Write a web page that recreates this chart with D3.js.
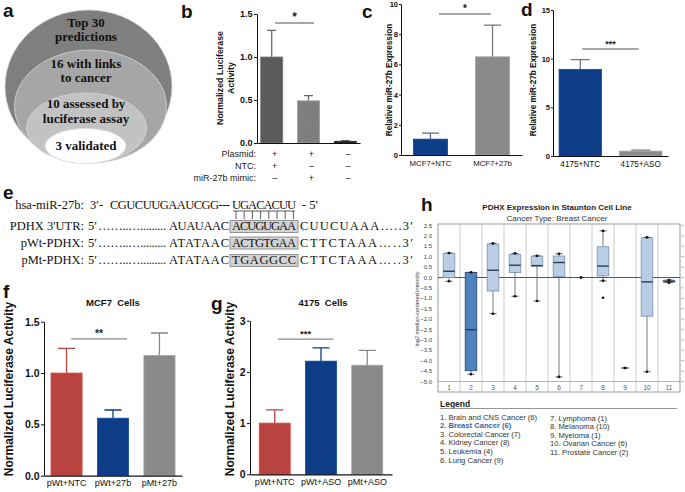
<!DOCTYPE html>
<html>
<head>
<meta charset="utf-8">
<script src="https://cdn.jsdelivr.net/npm/d3@7"></script>
<style>
  body { margin: 0; background: #fff; }
  text { font-family: Arial, "Liberation Sans", sans-serif; }
</style>
</head>
<body>
<script>
// ---- data ----
// a
const funnelLines = [["Top 30", "predictions"], ["16 with links", "to cancer"], ["10 assessed by", "luciferase assay"], ["3 validated"]];

// b
const bGroups = ["ntc", "mimic", "none"];
const bValues = [1.0, 0.49, 0.02];
const bErrors = [0.31, 0.06, 0.005];
const bTicks = [0, 0.5, 1.0, 1.5];
const bRows = ["Plasmid:", "NTC:", "miR-27b mimic:"];
const bSigns = [["+", "+", "–"], ["+", "–", "–"], ["–", "+", "–"]];

// c
const cLabels = ["MCF7+NTC", "MCF7+27b"];
const cValues = [1.05, 6.5];
const cErrors = [0.4, 2.1];
const cTicks = [0, 2, 4, 6, 8, 10];

// d
const dLabels = ["4175+NTC", "4175+ASO"];
const dValues = [8.9, 0.5];
const dErrors = [1.0, 0.1];
const dTicks = [0, 5, 10, 15];

// e
const seqNames = ["hsa-miR-27b:", "PDHX 3'UTR:", "pWt-PDHX:", "pMt-PDHX:"];
const seqLeft = ["CGUCUUGAAUCGG---", "AUAUAAC", "ATATAAC", "ATATAAC"];
const seqSite = ["UGACACUU", "ACUGUGAA", "ACTGTGAA", "TGAGGCC"];
const seqRight = ["- 5′", "CUUCUAAA…..3′", "CTTCTAAA…..3′", "CTTCTAAA…..3′"];

// f
const fLabels = ["pWt+NTC", "pWt+27b", "pMt+27b"];
const fValues = [1.0, 0.56, 1.17];
const fErrors = [0.24, 0.08, 0.22];
const fTicks = [0, 0.5, 1.0, 1.5];

// g
const gLabels = ["pWt+NTC", "pWt+ASO", "pMt+ASO"];
const gValues = [1.0, 2.21, 2.13];
const gErrors = [0.26, 0.26, 0.29];
const gTicks = [0, 1, 2, 3];

// h
const hCats = ["1", "2", "3", "4", "5", "6", "7", "8", "9", "10", "11"];
const hMin = [-0.18, -4.65, -1.74, -0.90, -1.13, -4.78, 0, -0.16, -4.35, -4.53, -0.25];
const hQ1 = [0.0, -4.48, -0.65, 0.24, 0.55, 0.05, 0, 0.08, -4.35, -1.86, -0.23];
const hMed = [0.30, -2.51, 0.35, 0.59, 0.57, 0.72, 0, 0.55, -4.35, -0.21, -0.18];
const hQ3 = [1.16, 0.24, 1.61, 1.11, 1.03, 1.03, 0, 1.48, -4.35, 1.91, -0.13];
const hMax = [1.18, 0.25, 1.64, 1.16, 1.04, 1.14, 0, 2.24, -4.35, 1.93, -0.12];
const hOutliers = [[], [], [], [], [], [], [], [-0.97], [], [], []];
const hTicks = [2.5, 2.0, 1.5, 1.0, 0.5, 0.0, -0.5, -1.0, -1.5, -2.0, -2.5, -3.0, -3.5, -4.0, -4.5, -5.0];
const hLegend = ["1. Brain and CNS Cancer (6)", "2. Breast Cancer (6)", "3. Colorectal Cancer (7)", "4. Kidney Cancer (8)",
  "5. Leukemia (4)", "6. Lung Cancer (9)", "7. Lymphoma (1)", "8. Melanoma (10)", "9. Myeloma (1)",
  "10. Ovarian Cancer (6)", "11. Prostate Cancer (2)"];

const RED = "#b8433f", BLUE = "#0d3d86", GREY = "#8a8a8a";
const serif = "'Liberation Serif', 'Times New Roman', serif";

const svg = d3.select("body").append("svg")
    .attr("width", 685)
    .attr("height", 492);

const defs = svg.append("defs");
const hatch = defs.append("pattern").attr("id", "hatch")
    .attr("width", 3).attr("height", 3).attr("patternUnits", "userSpaceOnUse");
hatch.append("rect").attr("width", 3).attr("height", 3).attr("fill", "#8e8e8e");
hatch.append("rect").attr("width", 1.5).attr("height", 1.5).attr("fill", "#6f6f6f");
hatch.append("rect").attr("x", 1.5).attr("y", 1.5).attr("width", 1.5).attr("height", 1.5).attr("fill", "#6f6f6f");

function letter(t, x, y) {
    svg.append("text").attr("x", x).attr("y", y).text(t)
        .attr("font-size", 19).attr("font-weight", "bold").attr("fill", "#111");
}

function yTitle(lines, x, cy, size) {
    lines.forEach(function (l, i) {
        svg.append("text")
            .attr("transform", "translate(" + (x + i * size * 1.25) + "," + cy + ") rotate(-90)")
            .attr("text-anchor", "middle")
            .attr("font-size", size).attr("font-weight", "bold")
            .attr("fill", "#111")
            .text(l);
    });
}

function barChart(o) {
    const g = svg.append("g");
    const x = d3.scaleBand().domain(o.labels).range(o.xRange).paddingInner(o.pi).paddingOuter(o.po);
    const y = d3.scaleLinear().domain([0, o.yMax]).range(o.yRange);
    const idx = o.values.map((d, i) => i);
    const bw = x.bandwidth();
    const cap = bw * (o.cap || 0.5);

    // upper error bars, drawn under the bars
    g.selectAll("path.err").data(idx).join("path")
        .attr("class", "err")
        .attr("d", function (i) {
            const cx = x(o.labels[i]) + bw / 2, top = y(o.values[i] + o.errors[i]);
            return "M" + cx + "," + y(o.values[i]) + "V" + top + "M" + (cx - cap / 2) + "," + top + "H" + (cx + cap / 2);
        })
        .attr("stroke", i => o.errColors ? o.errColors[i] : o.fills[i])
        .attr("stroke-width", 1.3).attr("fill", "none");

    g.selectAll("rect.bar").data(idx).join("rect")
        .attr("class", "bar")
        .attr("x", i => x(o.labels[i]))
        .attr("width", bw)
        .attr("y", i => y(o.values[i]))
        .attr("height", i => y(0) - y(o.values[i]))
        .attr("fill", i => o.fills[i])
        .attr("stroke", i => o.strokes ? o.strokes[i] : d3.color(o.fills[i]).brighter(0.5))
        .attr("stroke-width", 0.8);

    const xa = g.append("g").attr("transform", "translate(0," + o.yRange[0] + ")")
        .call(d3.axisBottom(x).tickSize(0).tickPadding(o.xPad || 4).tickSizeOuter(0)
            .tickFormat(o.showX === false ? "" : null));
    xa.selectAll("text").attr("font-size", o.xSize).attr("fill", "#111");
    xa.select(".domain").attr("stroke", "#111").attr("stroke-width", 1.2);

    const ya = g.append("g").attr("transform", "translate(" + o.xRange[0] + ",0)")
        .call(d3.axisLeft(y).tickValues(o.ticks).tickFormat(o.fmt)
            .tickSize(o.tick || 3).tickPadding(o.tickPad || 1.5).tickSizeOuter(0));
    ya.selectAll("text").attr("font-size", o.tickFont).attr("font-weight", "bold")
        .style("fill", "#111");
    ya.selectAll("line, path").attr("stroke", "#111").attr("stroke-width", 1);

    if (o.sig) {
        const sx1 = x(o.labels[o.sig.from]) + bw * o.sig.f1;
        const sx2 = x(o.labels[o.sig.to]) + bw * o.sig.f2;
        const sy = y(o.sig.level);
        g.append("line").attr("x1", sx1).attr("x2", sx2).attr("y1", sy).attr("y2", sy)
            .attr("stroke", "#8a8a8a").attr("stroke-width", 1.4);
        g.append("text").attr("x", (sx1 + sx2) / 2).attr("y", sy - 2)
            .attr("text-anchor", "middle").attr("font-size", o.sig.size || 11)
            .attr("font-weight", "bold").attr("fill", "#222").text(o.sig.stars);
    }
    return {x: x, y: y};
}

// ---- a ----
letter("a", 3, 17);
const ellipses = [
    {cx: 88.5, cy: 86.5, rx: 83.5, ry: 76.5, fill: "#7f7f7f"},
    {cx: 90.5, cy: 106.5, rx: 76, ry: 56.5, fill: "#a6a6a6"},
    {cx: 86.5, cy: 128, rx: 60, ry: 35, fill: "#c2c2c2"},
    {cx: 85.5, cy: 146, rx: 40.5, ry: 17.5, fill: "#ffffff"}
];
svg.selectAll("ellipse.lvl").data(ellipses).join("ellipse")
    .attr("class", "lvl")
    .attr("cx", d => d.cx).attr("cy", d => d.cy).attr("rx", d => d.rx).attr("ry", d => d.ry)
    .attr("fill", d => d.fill).attr("stroke", "#d8d8d8").attr("stroke-width", 0.8);
const funnelBase = [26.5, 67.5, 108, 150];
funnelLines.forEach(function (lines, i) {
    lines.forEach(function (l, j) {
        svg.append("text").attr("x", 86).attr("y", funnelBase[i] + j * 14.5)
            .attr("text-anchor", "middle")
            .style("font-family", serif)
            .attr("font-weight", "bold").attr("font-size", 13).attr("fill", "#111")
            .text(l);
    });
});

// ---- b ----
letter("b", 181, 18);
const b = barChart({
    labels: bGroups, values: bValues, errors: bErrors,
    fills: ["#5a5a5a", "url(#hatch)", "#111"],
    strokes: ["#7a7a7a", "#a0a0a0", "#333"],
    errColors: ["#666", "#666", "#333"],
    xRange: [257, 360], pi: 0.4, po: 0.1, cap: 0.4,
    yMax: 1.5, yRange: [143, 14], ticks: bTicks, fmt: d3.format(".1f"), tickFont: 9,
    showX: false, xSize: 9,
    sig: {from: 0, to: 1, f1: 0.65, f2: 0.75, level: 1.395, stars: "*", size: 12}
});
yTitle(["Normalized Luciferase", "Activity"], 223, 78, 8.8);
bRows.forEach(function (r, i) {
    svg.append("text").attr("x", 256).attr("y", 156.5 + i * 12)
        .attr("text-anchor", "end").attr("font-size", 9).attr("fill", "#222").text(r);
    bSigns[i].forEach(function (s, j) {
        svg.append("text").attr("x", b.x(bGroups[j]) + b.x.bandwidth() / 2 + 3).attr("y", 156.5 + i * 12)
            .attr("text-anchor", "middle").attr("font-size", 9).attr("fill", "#222").text(s);
    });
});

// ---- c ----
letter("c", 362, 18);
barChart({
    labels: cLabels, values: cValues, errors: cErrors,
    fills: [BLUE, GREY], errColors: ["#5a6a88", "#777"],
    xRange: [401, 522], pi: 0.45, po: 0.2, cap: 0.5,
    yMax: 10, yRange: [155, 4], ticks: cTicks, fmt: d3.format("d"), tickFont: 7.5, tick: 2, tickPad: 1,
    xSize: 7.8, xPad: 5,
    sig: {from: 0, to: 1, f1: 0.75, f2: 0.45, level: 9.34, stars: "*", size: 10}
});
yTitle(["Relative miR-27b Expression"], 391.5, 80, 8.2);

// ---- d ----
letter("d", 521, 16);
barChart({
    labels: dLabels, values: dValues, errors: dErrors,
    fills: [BLUE, GREY], errColors: ["#6b7485", "#777"],
    xRange: [553, 668], pi: 0.3, po: 0.1, cap: 0.45,
    yMax: 15, yRange: [156, 10], ticks: dTicks, fmt: d3.format("d"), tickFont: 7.5, tick: 2, tickPad: 1,
    xSize: 8.2, xPad: 5,
    sig: {from: 0, to: 1, f1: 0.55, f2: 0.45, level: 11.0, stars: "***", size: 9}
});
yTitle(["Relative miR-27b Expression"], 536, 80, 8.2);

// ---- e ----
letter("e", 3, 199);
const rowBase = [209, 230, 246.5, 264];
const eg = svg.append("g").attr("font-size", 12.5).attr("fill", "#111");
function seqText(x, y, t, anchor, len) {
    const s = eg.append("text").attr("x", x).attr("y", y).style("font-family", serif)
        .attr("text-anchor", anchor || "start").text(t);
    if (len) s.attr("textLength", len).attr("lengthAdjust", "spacing");
    return s;
}
seqNames.forEach(function (n, i) {
    const yb = rowBase[i];
    seqText(84, yb, n, "end");
    if (i === 0) {
        seqText(90, yb, "3′-");
        seqText(110, yb, seqLeft[i], "start", 120);
        seqText(232, yb, seqSite[i], "start", 64);
        seqText(302, yb, seqRight[i]);
    } else {
        seqText(88, yb, "5′");
        seqText(98, yb, "……..….........", "start", 68);
        eg.append("rect").attr("x", 230).attr("y", yb - 9.5).attr("width", 68).attr("height", 12)
            .attr("fill", "#d3d3d3").attr("stroke", "#8a8a8a").attr("stroke-width", 0.9);
        seqText(229, yb, seqLeft[i], "end", 60);
        seqText(232, yb, seqSite[i], "start", 64);
        seqText(300, yb, seqRight[i], "start", 113);
    }
});
// pairing comb between the miRNA seed and the UTR site
const comb = d3.range(seqSite[0].length);
eg.append("line").attr("x1", 233).attr("x2", 295).attr("y1", 211).attr("y2", 211)
    .attr("stroke", "#333").attr("stroke-width", 0.8);
eg.selectAll("line.comb").data(comb).join("line")
    .attr("class", "comb")
    .attr("x1", i => 236 + i * 8.2).attr("x2", i => 236 + i * 8.2)
    .attr("y1", 211).attr("y2", 219)
    .attr("stroke", "#333").attr("stroke-width", 0.8);

// ---- f ----
letter("f", 3, 298);
svg.append("text").attr("x", 113).attr("y", 306).attr("text-anchor", "middle")
    .attr("font-size", 9.5).attr("font-weight", "bold").attr("fill", "#111").text("MCF7\u00a0 Cells");
barChart({
    labels: fLabels, values: fValues, errors: fErrors,
    fills: [RED, BLUE, GREY],
    xRange: [44, 182], pi: 0.33, po: 0.15, cap: 0.55,
    yMax: 1.5, yRange: [475.7, 321.7], ticks: fTicks, fmt: d3.format(".1f"), tickFont: 10.5,
    xSize: 9, xPad: 4,
    sig: {from: 0, to: 1, f1: 0.65, f2: 0.95, level: 1.333, stars: "**", size: 10.5}
});
yTitle(["Normalized Luciferase Activity"], 12.5, 389, 12);

// ---- g ----
letter("g", 211, 310);
svg.append("text").attr("x", 323).attr("y", 306).attr("text-anchor", "middle")
    .attr("font-size", 9.5).attr("font-weight", "bold").attr("fill", "#111").text("4175\u00a0 Cells");
barChart({
    labels: gLabels, values: gValues, errors: gErrors,
    fills: [RED, BLUE, GREY],
    xRange: [250, 392], pi: 0.33, po: 0.2, cap: 0.55,
    yMax: 3, yRange: [474.3, 320.7], ticks: gTicks, fmt: d3.format("d"), tickFont: 10.5,
    xSize: 9, xPad: 4,
    sig: {from: 0, to: 1, f1: 0.6, f2: 0.9, level: 2.64, stars: "***", size: 9.5}
});
yTitle(["Normalized Luciferase Activity"], 234, 389, 12);

// ---- h ----
letter("h", 421, 211);
svg.append("text").attr("x", 557).attr("y", 210).attr("text-anchor", "middle")
    .attr("font-size", 8).attr("font-weight", "bold").attr("fill", "#222")
    .text("PDHX Expression in Staunton Cell Line");
svg.append("text").attr("x", 557).attr("y", 220.5).attr("text-anchor", "middle")
    .attr("font-size", 8).attr("fill", "#333").text("Cancer Type: Breast Cancer");

const hx = d3.scaleBand().domain(hCats).range([438, 680]);
const hy = d3.scaleLinear().domain([-5, 2.5]).range([381.5, 225.5]);
const hg = svg.append("g");
const frameTop = 224, frameBot = 392;

hg.selectAll("line.div").data(hCats.slice(1)).join("line")
    .attr("class", "div")
    .attr("x1", d => hx(d)).attr("x2", d => hx(d))
    .attr("y1", frameTop).attr("y2", frameBot)
    .attr("stroke", "#d4d4d4").attr("stroke-width", 1.2);
hg.append("line").attr("x1", 438).attr("x2", 680).attr("y1", hy(-5)).attr("y2", hy(-5))
    .attr("stroke", "#b5b5b5").attr("stroke-width", 1);
hg.append("rect").attr("x", 438).attr("y", frameTop).attr("width", 242).attr("height", frameBot - frameTop)
    .attr("fill", "none").attr("stroke", "#9a9a9a").attr("stroke-width", 1);
hg.append("line").attr("x1", 438).attr("x2", 680).attr("y1", hy(0)).attr("y2", hy(0))
    .attr("stroke", "#555").attr("stroke-width", 1);

hg.selectAll("text.ytl").data(hTicks).join("text")
    .attr("class", "ytl")
    .attr("x", 432).attr("y", d => hy(d) + 2)
    .attr("text-anchor", "end").attr("font-size", 6).attr("fill", "#444")
    .text(d3.format(".1f"));
hg.selectAll("line.ytr").data(hTicks).join("line")
    .attr("class", "ytr")
    .attr("x1", 681).attr("x2", 684).attr("y1", d => hy(d)).attr("y2", d => hy(d))
    .attr("stroke", "#aaa").attr("stroke-width", 0.8);
svg.append("text")
    .attr("transform", "translate(419,309) rotate(-90)")
    .attr("text-anchor", "middle").attr("font-size", 5.5).attr("fill", "#444")
    .text("log2 median-centered intensity");

hg.selectAll("text.xl").data(hCats).join("text")
    .attr("class", "xl")
    .attr("x", d => hx(d) + hx.bandwidth() / 2).attr("y", 389.8)
    .attr("text-anchor", "middle").attr("font-size", 6.5).attr("fill", "#555")
    .text(d => d);

const boxW = 11.5, capW = 7;
hCats.forEach(function (c, i) {
    const cx = hx(c) + hx.bandwidth() / 2;
    const single = hQ1[i] === hQ3[i];
    if (!single) {
        hg.append("line").attr("x1", cx).attr("x2", cx).attr("y1", hy(hMin[i])).attr("y2", hy(hMax[i]))
            .attr("stroke", "#666").attr("stroke-width", 0.9);
        hg.append("rect").attr("x", cx - boxW / 2).attr("width", boxW)
            .attr("y", hy(hQ3[i])).attr("height", hy(hQ1[i]) - hy(hQ3[i]))
            .attr("fill", i === 1 ? "#4f81bd" : "#b9cde5")
            .attr("stroke", i === 1 ? "#2d4f78" : "#8197b3").attr("stroke-width", 0.9);
        hg.append("line").attr("x1", cx - boxW / 2).attr("x2", cx + boxW / 2)
            .attr("y1", hy(hMed[i])).attr("y2", hy(hMed[i]))
            .attr("stroke", "#2e3c50").attr("stroke-width", 1.4);
    }
    [hMin[i], hMax[i]].forEach(function (v) {
        hg.append("line").attr("x1", cx - capW / 2).attr("x2", cx + capW / 2)
            .attr("y1", hy(v)).attr("y2", hy(v)).attr("stroke", "#444").attr("stroke-width", 0.9);
        hg.append("circle").attr("cx", cx).attr("cy", hy(v)).attr("r", 1.3).attr("fill", "#111");
    });
    hOutliers[i].forEach(function (v) {
        hg.append("circle").attr("cx", cx).attr("cy", hy(v)).attr("r", 1.3).attr("fill", "#111");
    });
});

svg.append("text").attr("x", 440).attr("y", 406.5).attr("font-size", 8.5).attr("font-weight", "bold")
    .attr("fill", "#222").text("Legend");
svg.append("line").attr("x1", 440).attr("x2", 677).attr("y1", 408.5).attr("y2", 408.5)
    .attr("stroke", "#8a8a8a").attr("stroke-width", 0.9);
svg.selectAll("text.leg").data(hLegend).join("text")
    .attr("class", "leg")
    .attr("x", (d, i) => i < 6 ? 440 : 550)
    .attr("y", (d, i) => i < 6 ? 419.5 + i * 8.65 : 420.5 + (i - 6) * 8.65)
    .attr("font-size", 7.6)
    .attr("font-weight", (d, i) => i === 1 ? "bold" : "normal")
    .attr("fill", (d, i) => i === 1 ? "#3a64a6" : "#333")
    .text(d => d);
</script>
</body>
</html>
